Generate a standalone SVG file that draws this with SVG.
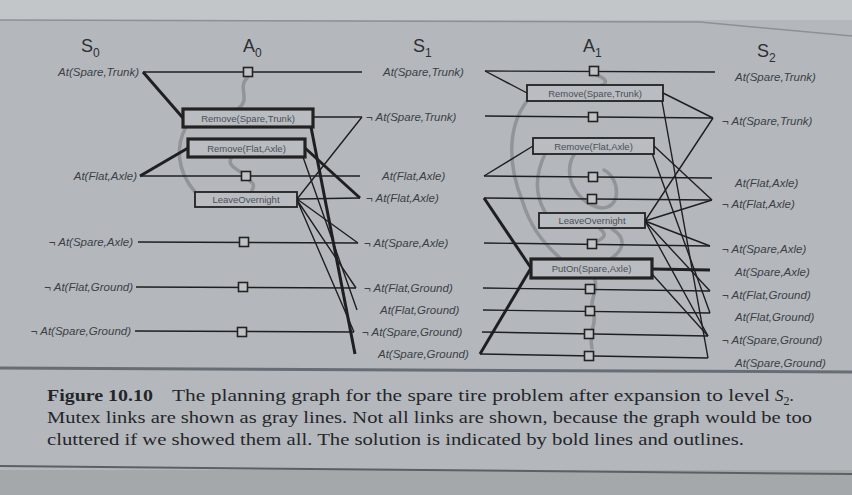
<svg xmlns="http://www.w3.org/2000/svg" width="852" height="495" viewBox="0 0 852 495">
<style>
.lit{font-family:"Liberation Sans",Arial,sans-serif;font-style:italic;font-size:11.5px;fill:#3b3f46}
.r{text-anchor:end}
.act{font-family:"Liberation Sans",Arial,sans-serif;font-size:9.5px;fill:#4b5058;text-anchor:middle}
.hd{font-family:"Liberation Sans",Arial,sans-serif;font-size:18px;fill:#2c2f34}
.ab{fill:#b9bcc0;stroke:#222;stroke-width:1.8}
.sol{stroke-width:3.2}
.pb{fill:#c0c3c6;stroke:#222;stroke-width:1.6}
.ln{stroke:#1e1f22;stroke-width:1.4;fill:none}
.bold{stroke-width:3}
.mx{stroke:#868a8f;stroke-width:3.5;fill:none;opacity:0.75;stroke-linecap:round}
.cap{font-family:"Liberation Serif","Times New Roman",serif;font-size:17px;fill:#25262a}
</style>
<defs>
<rect id="pbox" x="-4.5" y="-4.5" width="9" height="9" class="pb"/>
</defs>
<rect width="852" height="495" fill="#b4b8bc"/>
<rect width="852" height="20" fill="#c3c6c9"/>
<path d="M0,20 L700,22 L852,36" stroke="#8d9094" stroke-width="1.5" fill="none"/>
<rect x="0" y="470" width="852" height="25" fill="#a5a8ab"/>
<path d="M0,368 L852,372" stroke="#676d75" stroke-width="3" fill="none"/>
<path d="M0,466 L852,474" stroke="#5c5f63" stroke-width="2" fill="none"/>

<g id="mutex">
<path class="mx" d="M248,77 C236,88 252,98 238,109"/>
<path class="mx" d="M186,127 C176,145 176,170 195,192"/>
<path class="mx" d="M232,157 C225,166 240,170 246,176 M250,181 C258,186 250,190 252,192"/>
<path class="mx" d="M596,75 C612,80 606,88 590,86"/>
<path class="mx" d="M527,101 C505,130 510,170 522,200 C530,225 540,240 560,258"/>
<path class="mx" d="M545,154 C535,175 535,195 545,212"/>
<path class="mx" d="M575,153 C560,175 578,205 602,208 C622,208 620,178 604,170"/>
<path class="mx" d="M600,229 C610,236 600,240 593,243 M612,229 C630,240 620,252 612,258"/>
<path class="mx" d="M594,278 C600,290 588,300 593,312 C598,322 588,332 592,348"/>
</g>

<g id="connectors">
<!-- A0 persistence -->
<path class="ln" d="M143,72 L362,72"/>
<path class="ln" d="M140,176 L360,176"/>
<path class="ln" d="M138,242 L358,243"/>
<path class="ln" d="M136,287 L356,288"/>
<path class="ln" d="M135,331 L354,332"/>
<!-- A0 preconditions -->
<path class="ln bold" d="M143,72 L183,118"/>
<path class="ln bold" d="M140,176 L188,148"/>
<!-- A0 effects -->
<path class="ln" d="M313,117 L362,117"/>
<path class="ln bold" d="M311,127 L355,354"/>
<path class="ln bold" d="M305,148 L360,198"/>
<path class="ln" d="M303,157 L357,310"/>
<path class="ln" d="M297,199 L362,117 M297,199 L360,198 M297,199 L358,243 M297,200 L356,288 M297,200 L354,332"/>
<!-- A1 persistence -->
<path class="ln" d="M485,71 L715,72"/>
<path class="ln" d="M485,116 L713,118"/>
<path class="ln" d="M484,176 L712,178"/>
<path class="ln" d="M484,198 L712,200"/>
<path class="ln" d="M484,243 L710,246"/>
<path class="ln" d="M483,288 L710,291"/>
<path class="ln" d="M483,310 L710,313"/>
<path class="ln" d="M482,332 L708,336"/>
<path class="ln" d="M480,354 L708,358"/>
<!-- A1 preconditions -->
<path class="ln" d="M485,71 L527,93"/>
<path class="ln" d="M484,176 L533,146"/>
<path class="ln bold" d="M484,198 L531,268"/>
<path class="ln bold" d="M480,354 L531,268"/>
<!-- A1 effects -->
<path class="ln" d="M663,93 L713,118"/>
<path class="ln" d="M662,101 L708,358"/>
<path class="ln" d="M654,146 L712,200"/>
<path class="ln" d="M652,153 L710,313"/>
<path class="ln" d="M645,221 L713,118 M645,221 L712,200 M645,221 L710,246 M645,221 L710,291 M645,221 L708,336"/>
<path class="ln bold" d="M652,269 L710,270"/>
<path class="ln" d="M652,274 L708,336"/>
</g>

<g id="headings">
<text class="hd" x="81" y="52">S<tspan font-size="12" dy="5">0</tspan></text>
<text class="hd" x="243" y="52">A<tspan font-size="12" dy="5">0</tspan></text>
<text class="hd" x="413" y="52">S<tspan font-size="12" dy="5">1</tspan></text>
<text class="hd" x="583" y="52">A<tspan font-size="12" dy="5">1</tspan></text>
<text class="hd" x="757" y="57">S<tspan font-size="12" dy="5">2</tspan></text>
</g>

<g id="S0">
<text class="lit r" x="139" y="76">At(Spare,Trunk)</text>
<text class="lit r" x="137" y="180">At(Flat,Axle)</text>
<text class="lit r" x="133" y="246">¬ At(Spare,Axle)</text>
<text class="lit r" x="133" y="291">¬ At(Flat,Ground)</text>
<text class="lit r" x="131" y="335">¬ At(Spare,Ground)</text>
</g>

<g id="A0">
<g id="a0-remove-spare-trunk"><rect class="ab sol" x="183" y="109" width="130" height="18"/><text class="act" x="248" y="121.5">Remove(Spare,Trunk)</text></g>
<g id="a0-remove-flat-axle"><rect class="ab sol" x="188" y="139" width="117" height="18"/><text class="act" x="246.5" y="151.5">Remove(Flat,Axle)</text></g>
<g id="a0-leave-overnight"><rect class="ab" x="195" y="192" width="102" height="15"/><text class="act" x="246" y="203">LeaveOvernight</text></g>
<g id="a0-persist"><use href="#pbox" x="248" y="72"/><use href="#pbox" x="246" y="176"/><use href="#pbox" x="244" y="242"/><use href="#pbox" x="243" y="287"/><use href="#pbox" x="242" y="332"/></g>
</g>

<g id="S1">
<text class="lit" x="383" y="76">At(Spare,Trunk)</text>
<text class="lit" x="366" y="121">¬ At(Spare,Trunk)</text>
<text class="lit" x="382" y="180">At(Flat,Axle)</text>
<text class="lit" x="366" y="202">¬ At(Flat,Axle)</text>
<text class="lit" x="364" y="247">¬ At(Spare,Axle)</text>
<text class="lit" x="364" y="292">¬ At(Flat,Ground)</text>
<text class="lit" x="380" y="314">At(Flat,Ground)</text>
<text class="lit" x="362" y="336">¬ At(Spare,Ground)</text>
<text class="lit" x="378" y="358">At(Spare,Ground)</text>
</g>

<g id="A1">
<g id="a1-remove-spare-trunk"><rect class="ab" x="527" y="85" width="136" height="16"/><text class="act" x="595" y="96.5">Remove(Spare,Trunk)</text></g>
<g id="a1-remove-flat-axle"><rect class="ab" x="533" y="138" width="121" height="16"/><text class="act" x="593.5" y="149.5">Remove(Flat,Axle)</text></g>
<g id="a1-leave-overnight"><rect class="ab" x="539" y="213" width="106" height="15"/><text class="act" x="592" y="224">LeaveOvernight</text></g>
<g id="a1-puton-spare-axle"><rect class="ab sol" x="531" y="259" width="121" height="19"/><text class="act" x="591.5" y="272">PutOn(Spare,Axle)</text></g>
<g id="a1-persist"><use href="#pbox" x="594" y="71"/><use href="#pbox" x="593" y="117"/><use href="#pbox" x="593" y="177"/><use href="#pbox" x="592" y="199"/><use href="#pbox" x="592" y="244"/><use href="#pbox" x="590" y="289"/><use href="#pbox" x="590" y="311"/><use href="#pbox" x="589" y="334"/><use href="#pbox" x="589" y="356"/></g>
</g>

<g id="S2">
<text class="lit" x="735" y="81">At(Spare,Trunk)</text>
<text class="lit" x="722" y="125">¬ At(Spare,Trunk)</text>
<text class="lit" x="735" y="187">At(Flat,Axle)</text>
<text class="lit" x="722" y="208">¬ At(Flat,Axle)</text>
<text class="lit" x="722" y="253">¬ At(Spare,Axle)</text>
<text class="lit" x="735" y="276">At(Spare,Axle)</text>
<text class="lit" x="722" y="299">¬ At(Flat,Ground)</text>
<text class="lit" x="735" y="321">At(Flat,Ground)</text>
<text class="lit" x="722" y="344">¬ At(Spare,Ground)</text>
<text class="lit" x="735" y="367">At(Spare,Ground)</text>
</g>

<g id="caption">
<text class="cap" x="47" y="401" font-weight="bold" textLength="106" lengthAdjust="spacingAndGlyphs">Figure 10.10</text>
<text class="cap" x="172" y="401" textLength="598" lengthAdjust="spacingAndGlyphs">The planning graph for the spare tire problem after expansion to level</text>
<text class="cap" x="775" y="401"><tspan font-style="italic">S</tspan><tspan font-size="12" dy="4">2</tspan><tspan dy="-4">.</tspan></text>
<text class="cap" x="47" y="423" textLength="765" lengthAdjust="spacingAndGlyphs">Mutex links are shown as gray lines. Not all links are shown, because the graph would be too</text>
<text class="cap" x="47" y="445" textLength="697" lengthAdjust="spacingAndGlyphs">cluttered if we showed them all. The solution is indicated by bold lines and outlines.</text>
</g>
</svg>
